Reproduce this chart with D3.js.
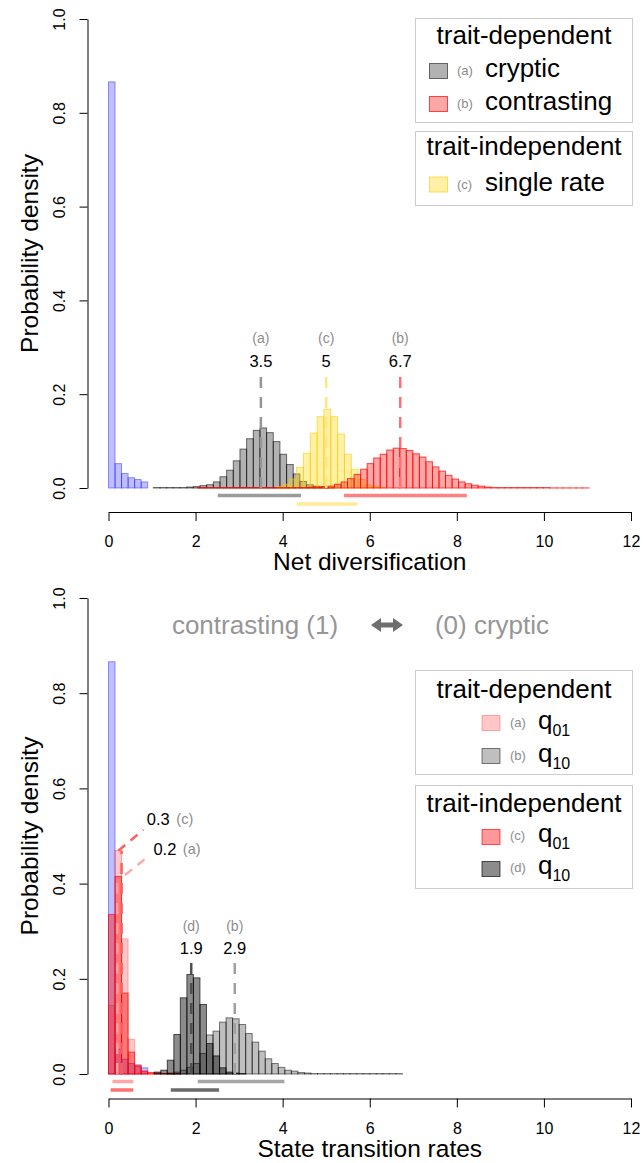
<!DOCTYPE html>
<html><head><meta charset="utf-8">
<script src="https://cdn.jsdelivr.net/npm/d3@7"></script>
<style>
html,body{margin:0;padding:0;background:#fff;}
svg{display:block;font-family:"Liberation Sans",Arial,Helvetica,sans-serif;}
</style></head><body>
<svg id="chart" width="643" height="1163"></svg>
<script>
// ---- axis ticks ----
const xTicks = [0, 2, 4, 6, 8, 10, 12];
const yTicks = [0, 0.2, 0.4, 0.6, 0.8, 1.0];

// ---- prior (shared by both panels) ----
const priorStart = 0, priorBin = 0.15;
const priorDensity = [0.866, 0.052, 0.031, 0.022, 0.018, 0.013];

// ---- net diversification posteriors ----
const crypticStart = 1.03, crypticBin = 0.153;
const crypticDensity = [0.001, 0.001, 0.001, 0.001, 0.001, 0.002, 0.003, 0.005, 0.007, 0.013,
  0.024, 0.038, 0.058, 0.083, 0.105, 0.123, 0.128, 0.118, 0.099, 0.072,
  0.050, 0.030, 0.014, 0.007, 0.004, 0.002, 0.001];

const contrastStart = 2.04, contrastBin = 0.15;
const contrastDensity = [0.001, 0.001, 0.001, 0.001, 0.001, 0.001, 0.001, 0.001, 0.001, 0.001,
  0.001, 0.001, 0.001, 0.001, 0.001, 0.001, 0.001, 0.002, 0.002, 0.003,
  0.004, 0.008, 0.013, 0.020, 0.029, 0.040, 0.052, 0.064, 0.072, 0.081,
  0.085, 0.084, 0.080, 0.073, 0.066, 0.056, 0.045, 0.036, 0.027, 0.019,
  0.013, 0.009, 0.006, 0.004, 0.002, 0.001, 0.001, 0.001, 0.001, 0.001,
  0.001, 0.001, 0.001, 0.001, 0.0002, 0.0002, 0.0002, 0.0002, 0.0002, 0.0002];

const singleStart = 3.849, singleBin = 0.157;
const singleDensity = [0.003, 0.008, 0.019, 0.044, 0.074, 0.117, 0.152, 0.168, 0.152, 0.115,
  0.072, 0.040, 0.018, 0.007, 0.003, 0.001];

const netMeans = [3.5, 5, 6.7];
const netTags = ["(a)", "(c)", "(b)"];
const netIntervals = [[2.51, 4.42], [5.41, 8.23], [4.32, 5.72]];

// ---- state transition rate posteriors ----
const rateBin = 0.15;
const depQ01Start = 0;
const depQ01 = [0.144, 0.470, 0.284, 0.073, 0.020, 0.006, 0.002, 0.001, 0.001, 0.001, 0.001];
const indQ01Start = 0;
const indQ01 = [0.335, 0.415, 0.170, 0.046, 0.016, 0.006, 0.003, 0.002, 0.001, 0.001, 0.001];
const depQ10Start = 1.35;
const depQ10 = [0.002, 0.004, 0.008, 0.014, 0.022, 0.043, 0.082, 0.090, 0.109, 0.118,
  0.116, 0.104, 0.085, 0.067, 0.048, 0.032, 0.022, 0.014, 0.008, 0.006,
  0.003, 0.002, 0.001, 0.001, 0.001, 0.001, 0.001, 0.001, 0.001, 0.001,
  0.001, 0.001, 0.001, 0.001, 0.001, 0.001];
const indQ10Start = 1.05;
const indQ10 = [0.004, 0.008, 0.029, 0.083, 0.160, 0.209, 0.202, 0.146, 0.064, 0.038,
  0.013, 0.004, 0.002, 0.001];

const rateMeans = [0.2, 0.3, 1.9, 2.9];
const rateTags = ["(a)", "(c)", "(d)", "(b)"];
const rateIntervals = [[0.09, 0.57], [2.05, 4.04], [0.05, 0.57], [1.43, 2.54]];
// leader lines for the two small means near zero: [x1, y1, x2, y2]
const leaderC = [0.225, 0.469, 0.80, 0.513];
const leaderA = [0.38, 0.418, 0.95, 0.46];

// ---- drawing ----
const svg = d3.select("#chart");
const x = d3.scaleLinear().domain([0, 12]).range([108.5, 631]);
const yTop = d3.scaleLinear().domain([0, 1]).range([488, 19]);
const yBot = d3.scaleLinear().domain([0, 1]).range([1074, 598]);

const styles = {
  prior:    {fill: "rgba(0,0,255,0.25)", stroke: "rgba(0,0,255,0.4)"},
  cryptic:  {fill: "rgba(0,0,0,0.3)", stroke: "rgba(0,0,0,0.55)"},
  contrast: {fill: "rgba(255,0,0,0.35)", stroke: "rgba(255,0,0,0.7)"},
  single:   {fill: "rgba(255,215,0,0.35)", stroke: "rgba(255,200,0,0.6)"},
  depQ01:   {fill: "rgba(255,0,0,0.22)", stroke: "rgba(255,0,0,0.3)"},
  indQ01:   {fill: "rgba(255,0,0,0.4)", stroke: "rgba(255,0,0,0.65)"},
  depQ10:   {fill: "rgba(0,0,0,0.25)", stroke: "rgba(0,0,0,0.5)"},
  indQ10:   {fill: "rgba(0,0,0,0.45)", stroke: "rgba(0,0,0,0.65)"}
};

function toBins(start, width, heights) {
  return heights.map((h, i) => ({x0: start + i * width, x1: start + (i + 1) * width, h}));
}

function hist(y, start, width, heights, st) {
  svg.append("g").selectAll("rect").data(toBins(start, width, heights)).join("rect")
    .attr("x", d => x(d.x0))
    .attr("width", d => x(d.x1) - x(d.x0))
    .attr("y", d => y(d.h))
    .attr("height", d => Math.max(0, y(0) - y(d.h)))
    .attr("fill", st.fill)
    .attr("stroke", st.stroke)
    .attr("stroke-width", 1);
}

function axes(y, axisY, title) {
  const gx = svg.append("g").attr("transform", `translate(0,${axisY})`)
    .call(d3.axisBottom(x).tickValues(xTicks).tickSize(9).tickSizeOuter(0).tickFormat(d3.format("d")));
  gx.selectAll("text").attr("y", 35).attr("dy", 0).attr("font-size", 16).attr("fill", "#000")
    .attr("font-family", "Liberation Sans, Arial, sans-serif");
  gx.select(".domain").attr("stroke", "#000");
  const gy = svg.append("g").attr("transform", "translate(87.5,0)")
    .call(d3.axisLeft(y).tickValues(yTicks).tickSize(8).tickSizeOuter(0).tickFormat(d3.format(".1f")));
  gy.selectAll("text").attr("x", 0).attr("dy", 0).attr("y", -23)
    .attr("transform", "rotate(-90)").attr("text-anchor", "middle")
    .attr("font-size", 16).attr("fill", "#000")
    .attr("font-family", "Liberation Sans, Arial, sans-serif");
  svg.append("text").attr("x", (x(0) + x(12)) / 2).attr("y", axisY + 58)
    .attr("text-anchor", "middle").attr("font-size", 24.5).text(title);
  const cy = (y(0) + y(1)) / 2;
  svg.append("text").attr("transform", `translate(38,${cy}) rotate(-90)`)
    .attr("text-anchor", "middle").attr("font-size", 24.5).text("Probability density");
}

function meanLine(y, v, top, color) {
  svg.append("line").attr("x1", x(v)).attr("x2", x(v)).attr("y1", y(0)).attr("y2", y(top))
    .attr("stroke", color).attr("stroke-width", 2.5).attr("stroke-dasharray", "11,9");
}

function meanLabel(y, v, tag, numY, tagY) {
  svg.append("text").attr("x", x(v)).attr("y", y(tagY)).attr("text-anchor", "middle")
    .attr("font-size", 14).attr("fill", "#8c8c8c").text(tag);
  svg.append("text").attr("x", x(v)).attr("y", y(numY)).attr("text-anchor", "middle")
    .attr("font-size", 16.5).attr("fill", "#000").text(String(v));
}

function interval(y, r, row, color) {
  const yy = y(0) + 7.5 + row * 8.5;
  svg.append("line").attr("x1", x(r[0])).attr("x2", x(r[1])).attr("y1", yy).attr("y2", yy)
    .attr("stroke", color).attr("stroke-width", 3.5);
}

// ===== top panel: net diversification =====
hist(yTop, priorStart, priorBin, priorDensity, styles.prior);
hist(yTop, crypticStart, crypticBin, crypticDensity, styles.cryptic);
hist(yTop, singleStart, singleBin, singleDensity, styles.single);
hist(yTop, contrastStart, contrastBin, contrastDensity, styles.contrast);

const netColors = ["#969696", "#ffe680", "#ff7070"];
netMeans.forEach((m, i) => {
  meanLine(yTop, m, 0.24, netColors[i]);
  meanLabel(yTop, m, netTags[i], 0.258, 0.309);
});
interval(yTop, netIntervals[0], 0, "#9b9b9b");
interval(yTop, netIntervals[1], 0, "#ff8080");
interval(yTop, netIntervals[2], 1, "#ffeb99");

axes(yTop, 512, "Net diversification");

// top legends
function legendBox(x0, y0, w, h) {
  svg.append("rect").attr("x", x0).attr("y", y0).attr("width", w).attr("height", h)
    .attr("fill", "#fff").attr("stroke", "#cccccc").attr("stroke-width", 1);
}
function swatch(x0, y0, st) {
  svg.append("rect").attr("x", x0).attr("y", y0).attr("width", 18).attr("height", 15)
    .attr("fill", "#fff");
  svg.append("rect").attr("x", x0).attr("y", y0).attr("width", 18).attr("height", 15)
    .attr("fill", st.fill).attr("stroke", st.stroke);
}
function tagText(x0, y0, t, size) {
  svg.append("text").attr("x", x0).attr("y", y0).attr("font-size", size || 13).attr("fill", "#8c8c8c").text(t);
}
function bigText(x0, y0, t, anchor) {
  return svg.append("text").attr("x", x0).attr("y", y0).attr("font-size", 26)
    .attr("text-anchor", anchor || "start").attr("fill", "#000").text(t);
}

legendBox(415.5, 18.5, 217, 104);
bigText(524, 44, "trait-dependent", "middle");
swatch(429.5, 63.5, styles.cryptic); tagText(457, 75, "(a)"); bigText(485, 77, "cryptic");
swatch(429.5, 96.5, styles.contrast); tagText(457, 108, "(b)"); bigText(485, 110, "contrasting");
legendBox(415.5, 131.5, 217, 74);
bigText(524, 155, "trait-independent", "middle");
swatch(429.5, 177, styles.single); tagText(457, 188.5, "(c)"); bigText(485, 190.5, "single rate");

// ===== bottom panel: state transition rates =====
hist(yBot, priorStart, priorBin, priorDensity, styles.prior);
hist(yBot, indQ01Start, rateBin, indQ01, styles.indQ01);
hist(yBot, depQ01Start, rateBin, depQ01, styles.depQ01);
hist(yBot, depQ10Start, rateBin, depQ10, styles.depQ10);
hist(yBot, indQ10Start, rateBin, indQ10, styles.indQ10);

// means near zero with leader lines
meanLine(yBot, rateMeans[0], leaderA[1], "#ffa0a0");
meanLine(yBot, rateMeans[1], leaderC[1], "#ff5a5a");
[[leaderC, "#ff6060"], [leaderA, "#ffa8a8"]].forEach(([L, c]) => {
  svg.append("line").attr("x1", x(L[0])).attr("y1", yBot(L[1])).attr("x2", x(L[2])).attr("y2", yBot(L[3]))
    .attr("stroke", c).attr("stroke-width", 2.5).attr("stroke-dasharray", "9,7");
});
svg.append("text").attr("x", x(leaderC[2]) + 15).attr("y", yBot(0.523)).attr("text-anchor", "middle")
  .attr("font-size", 16.5).text(String(rateMeans[1]));
tagText(x(leaderC[2]) + 33, yBot(0.525), rateTags[1], 14.5);
svg.append("text").attr("x", x(leaderA[2]) + 15).attr("y", yBot(0.46)).attr("text-anchor", "middle")
  .attr("font-size", 16.5).text(String(rateMeans[0]));
tagText(x(leaderA[2]) + 33, yBot(0.462), rateTags[0], 14.5);

meanLine(yBot, rateMeans[2], 0.233, "#505050");
meanLabel(yBot, rateMeans[2], rateTags[2], 0.252, 0.30);
meanLine(yBot, rateMeans[3], 0.233, "#a0a0a0");
meanLabel(yBot, rateMeans[3], rateTags[3], 0.252, 0.30);

interval(yBot, rateIntervals[0], 0, "#ffa5a5");
interval(yBot, rateIntervals[1], 0, "#a5a5a5");
interval(yBot, rateIntervals[2], 1, "#ff7070");
interval(yBot, rateIntervals[3], 1, "#6a6a6a");

axes(yBot, 1098.5, "State transition rates");

// direction header
svg.append("text").attr("x", 255).attr("y", 634).attr("text-anchor", "middle")
  .attr("font-size", 26).attr("fill", "#969696").text("contrasting (1)");
svg.append("text").attr("x", 492).attr("y", 634).attr("text-anchor", "middle")
  .attr("font-size", 26).attr("fill", "#969696").text("(0) cryptic");
svg.append("path")
  .attr("d", "M371,625 L381,618 L381,622.5 L393,622.5 L393,618 L403,625 L393,632 L393,627.5 L381,627.5 L381,632 Z")
  .attr("fill", "#6e6e6e");

// bottom legends
function qLabel(x0, y0, sub) {
  const t = svg.append("text").attr("x", x0).attr("y", y0).attr("font-size", 26);
  t.append("tspan").text("q");
  t.append("tspan").attr("font-size", 16).attr("dy", 7).text(sub);
}
legendBox(415.5, 670.5, 217, 104);
bigText(524, 698, "trait-dependent", "middle");
swatch(482, 715.5, styles.depQ01); tagText(510, 727, "(a)"); qLabel(538, 729, "01");
swatch(482, 748.5, styles.depQ10); tagText(510, 760, "(b)"); qLabel(538, 762, "10");
legendBox(415.5, 785.5, 217, 103);
bigText(524, 812, "trait-independent", "middle");
swatch(482, 829.5, styles.indQ01); tagText(510, 840, "(c)"); qLabel(538, 842, "01");
swatch(482, 861.5, styles.indQ10); tagText(510, 872, "(d)"); qLabel(538, 874, "10");
</script>
</body></html>
